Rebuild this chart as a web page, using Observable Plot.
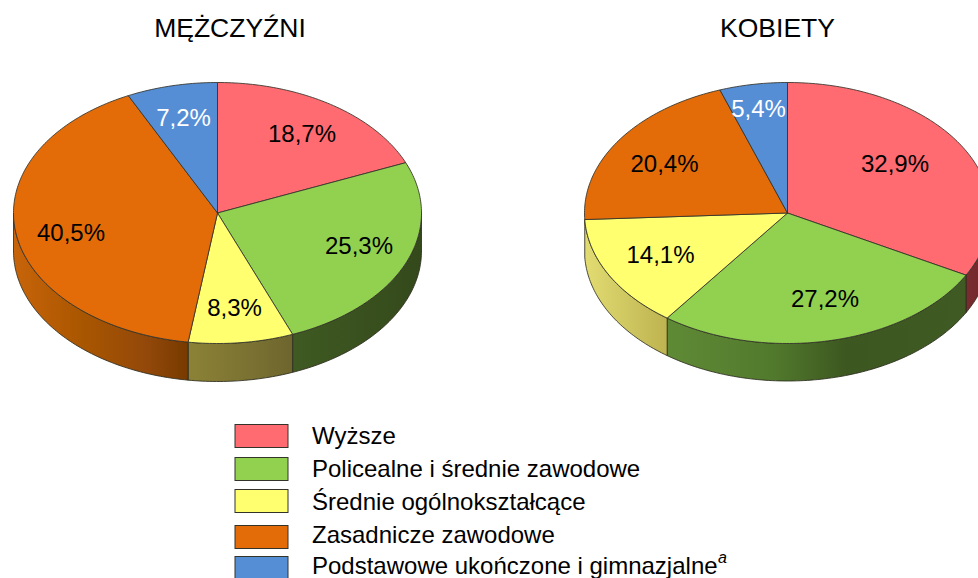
<!DOCTYPE html>
<html><head><meta charset="utf-8">
<script src="https://cdn.jsdelivr.net/npm/d3@7"></script>
<script src="https://cdn.jsdelivr.net/npm/@observablehq/plot@0.6"></script>
<style>html,body{margin:0;padding:0;background:#fff}svg{display:block}</style>
</head><body><div id="chart"></div>
<script>
const categories = ["Wyższe","Policealne i średnie zawodowe","Średnie ogólnokształcące","Zasadnicze zawodowe","Podstawowe ukończone i gimnazjalne"];
const menValues = [18.7,25.3,8.3,40.5,7.2];
const womenValues = [32.9,27.2,14.1,20.4,5.4];
const colors = ["#ff6b70","#92d050","#ffff70","#e36c09","#558ed5"];
const labelColors = ["#000","#000","#000","#000","#fff"];
const fmt = v => v.toFixed(1).replace(".",",")+"%";

// layout
const W=978,H=578;
const pies = [
  {id:"m",title:"MĘŻCZYŹNI",values:menValues,cx:217,cy:212.5,rx:204,ry:130.5,depth:38,titleX:229.5,
   labelX:[301.5,358.5,234,70.5,183],labelY:[134,246,308,233,118],
   walls:[null,
     [["0","#3f5a22"],["1","#34491b"]],
     [["0","#8c8236"],["0.5","#7d7433"],["1","#6e652e"]],
     [["0","#c8640a"],["0.4","#a95600"],["0.75","#94490a"],["1","#773a00"]],null]},
  {id:"w",title:"KOBIETY",values:womenValues,cx:787,cy:212.5,rx:203,ry:130.5,depth:37.5,titleX:777,
   labelX:[894.5,824.5,660,664,758],labelY:[164,299,255,164,109],
   walls:[[["0","#7a2c30"],["1","#6e2528"]],
     [["0","#5f8a35"],["0.35","#527a2d"],["0.6","#3c5720"],["1","#3f5a22"]],
     [["0","#e2dc72"],["1","#bdb350"]],null,null]}
];
const pt=(p,deg,dy=0)=>{const a=deg*Math.PI/180;return {x:p.cx+p.rx*Math.sin(a),y:p.cy-p.ry*Math.cos(a)+dy};};
const arc=(p,a0,a1,dy=0)=>{const n=Math.max(2,Math.ceil(Math.abs(a1-a0)));return d3.range(n+1).map(i=>pt(p,a0+(a1-a0)*i/n,dy));};

const marks=[];
const defs=[];
for(const p of pies){
  let cum=0;
  const spans=p.values.map(v=>{const s=[cum,cum+v];cum+=v;return s.map(f=>f*3.6);});
  spans[spans.length-1][1]=360;
  spans.forEach((s,i)=>{
    const a0=Math.max(s[0],90),a1=Math.min(s[1],270);
    if(a1<=a0||!p.walls[i])return;
    const gid=`g-${p.id}-${i}`;
    defs.push({id:gid,stops:p.walls[i]});
    const poly=[...arc(p,a0,a1),...arc(p,a1,a0,p.depth),pt(p,a0)];
    marks.push(Plot.line(poly,{x:"x",y:"y",fill:`url(#${gid})`,stroke:"#2e2e20",strokeWidth:1,strokeOpacity:.85,curve:"linear"}));
  });
  spans.forEach((s,i)=>{
    const poly=[{x:p.cx,y:p.cy},...arc(p,s[0],s[1]),{x:p.cx,y:p.cy}];
    marks.push(Plot.line(poly,{x:"x",y:"y",fill:colors[i],stroke:"#33332a",strokeWidth:1,strokeOpacity:.85,curve:"linear"}));
  });
  marks.push(Plot.text(p.values.map((v,i)=>({t:fmt(v),x:p.labelX[i],y:p.labelY[i],c:labelColors[i]})),
    {x:"x",y:"y",text:"t",fill:"c",fontSize:24,textAnchor:"middle",lineAnchor:"middle"}));
  marks.push(Plot.text([p.title],{x:[p.titleX],y:[28.5],text:d=>d,fontSize:26.5,fill:"#000",textAnchor:"middle",lineAnchor:"middle"}));
}
// legend
const swatchY=[436,469,501,537,568];
const legendTextY=[436,469,502,535,565.5];
const legend=categories.map((c,i)=>({c,i,y:swatchY[i],ty:legendTextY[i],color:colors[i]}));
marks.push(Plot.rect(legend,{x1:()=>235,x2:()=>288,y1:d=>d.y-11.5,y2:d=>d.y+11.5,fill:"color",stroke:"#33332a",strokeWidth:1}));
marks.push(Plot.text(legend,{x:()=>311.5,y:"ty",text:"c",fontSize:24,fill:"#000",textAnchor:"start",lineAnchor:"middle"}));
marks.push(Plot.text(["a"],{x:[717.5],y:[557],text:d=>d,fontSize:16,fontStyle:"italic",fill:"#000",textAnchor:"start",lineAnchor:"middle"}));
marks.unshift(()=>{
  const svgNS="http://www.w3.org/2000/svg";
  const d=document.createElementNS(svgNS,"defs");
  for(const g of defs){
    const lg=document.createElementNS(svgNS,"linearGradient");
    lg.setAttribute("id",g.id);
    for(const [o,c] of g.stops){const s=document.createElementNS(svgNS,"stop");s.setAttribute("offset",o);s.setAttribute("stop-color",c);lg.appendChild(s);}
    d.appendChild(lg);
  }
  return d;
});
const chart=Plot.plot({width:W,height:H,margin:0,
  style:{fontFamily:"'Liberation Sans',Arial,sans-serif",background:"#fff"},
  x:{domain:[0,W],range:[0,W],axis:null},
  y:{domain:[0,H],range:[0,H],axis:null},
  marks});
document.getElementById("chart").appendChild(chart);
</script></body></html>
